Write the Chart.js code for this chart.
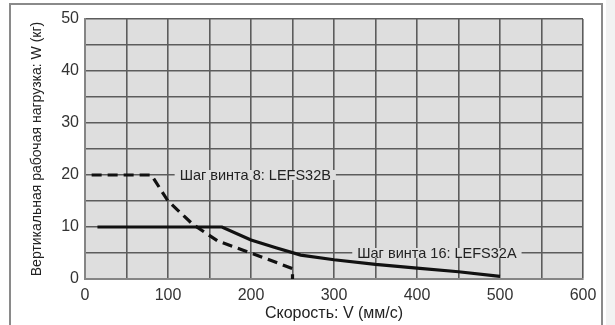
<!DOCTYPE html>
<html>
<head>
<meta charset="utf-8">
<script src="https://cdn.jsdelivr.net/npm/chart.js@4/dist/chart.umd.min.js"></script>
<style>
  html, body { margin: 0; padding: 0; background: #fff; }
  #wrap { position: relative; width: 615px; height: 325px; overflow: hidden; }
  #frame { position: absolute; left: 9px; top: 3px; width: 594px; height: 330px;
           border: 2px solid #8a8a8a; box-sizing: border-box; }
  #side { position: absolute; left: 606px; top: 0; width: 9px; height: 325px; background: #f2f2f2; }
  canvas { position: absolute; left: 0; top: 0; }
</style>
</head>
<body>
<div id="wrap">
  <div id="side"></div>
  <div id="frame"></div>
  <canvas id="myChart" width="615" height="325"></canvas>
</div>
<script>
// скорость V (мм/с) и нагрузка W (кг)
let speedB = [8, 80, 100, 130, 160, 200, 250, 250];
let loadB = [20, 20, 15, 10.5, 7.3, 5, 2, 0];

let speedA = [15, 165, 200, 230, 260, 300, 350, 400, 450, 500];
let loadA = [10, 10, 7.5, 6, 4.6, 3.7, 2.8, 2.1, 1.4, 0.5];

let xTicks = [0, 100, 200, 300, 400, 500, 600];
let yTicks = [0, 10, 20, 30, 40, 50];

let labelB = 'Шаг винта 8: LEFS32B';
let labelA = 'Шаг винта 16: LEFS32A';

function toPoints(xs, ys) {
    return xs.map((x, i) => ({ x: x, y: ys[i] }));
}

let fontName = '"Liberation Sans", Arial, sans-serif';
let gridColor = '#5c5c5c';

// фон области графика и подписи кривых
let plotExtras = {
    id: 'plotExtras',
    beforeDraw(chart) {
        let a = chart.chartArea;
        let ctx = chart.ctx;
        ctx.save();
        ctx.fillStyle = '#dedede';
        ctx.fillRect(a.left, a.top, a.width, a.height);
        ctx.restore();
    },
    afterDatasetsDraw(chart) {
        let ctx = chart.ctx;
        let xs = chart.scales.x;
        let ys = chart.scales.y;
        ctx.save();
        ctx.font = '14.5px ' + fontName;
        ctx.textBaseline = 'middle';
        [[labelB, 108, 20], [labelA, 322, 5]].forEach(l => {
            let px = xs.getPixelForValue(l[1]);
            let py = ys.getPixelForValue(l[2]);
            let w = ctx.measureText(l[0]).width;
            ctx.fillStyle = '#dedede';
            ctx.fillRect(px, py - 5, w + 10, 10);
            ctx.fillStyle = '#222';
            ctx.fillText(l[0], px + 5, py + 1);
        });
        ctx.restore();
    }
};

let ctx = document.getElementById('myChart').getContext('2d');
let chart = new Chart(ctx, {
    type: 'scatter',
    data: {
        datasets: [{
            data: toPoints(speedB, loadB),
            showLine: true,
            borderColor: '#111',
            borderWidth: 3.2,
            borderDash: [10, 6],
            pointRadius: 0,
            tension: 0
        }, {
            data: toPoints(speedA, loadA),
            showLine: true,
            borderColor: '#111',
            borderWidth: 3.2,
            pointRadius: 0,
            tension: 0
        }]
    },
    options: {
        responsive: false,
        animation: false,
        layout: { padding: { top: 19, right: 32, bottom: 0, left: 0 } },
        plugins: { legend: { display: false }, tooltip: { enabled: false } },
        scales: {
            x: {
                type: 'linear',
                min: 0,
                max: 600,
                afterFit(scale) { scale.height = 46; },
                ticks: {
                    stepSize: 50,
                    padding: 7,
                    color: '#333',
                    font: { size: 16, family: fontName },
                    maxRotation: 0,
                    callback: v => xTicks.includes(v) ? v : ''
                },
                grid: { color: gridColor, lineWidth: 1.6, drawTicks: false },
                border: { color: '#858585', width: 2 },
                title: {
                    display: true,
                    text: 'Скорость: V (мм/с)',
                    color: '#222',
                    font: { size: 16, family: fontName },
                    padding: { top: 0, bottom: 2 }
                }
            },
            y: {
                min: 0,
                max: 50,
                afterFit(scale) { scale.width = 85; },
                ticks: {
                    stepSize: 5,
                    padding: 6,
                    color: '#333',
                    font: { size: 16, family: fontName },
                    callback: v => yTicks.includes(v) ? v : ''
                },
                grid: { color: gridColor, lineWidth: 1.6, drawTicks: false },
                border: { color: '#858585', width: 2 },
                title: {
                    display: true,
                    text: 'Вертикальная рабочая нагрузка: W (кг)',
                    color: '#222',
                    font: { size: 14, family: fontName },
                    padding: { top: 29, bottom: 0 }
                }
            }
        }
    },
    plugins: [plotExtras]
});
</script>
</body>
</html>
